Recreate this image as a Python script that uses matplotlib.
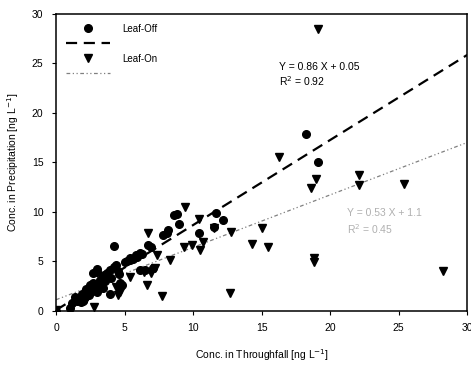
import matplotlib
matplotlib.use("Agg")
import matplotlib.pyplot as plt
from matplotlib.lines import Line2D
import numpy as np

plt.rcParams['font.family'] = ['Liberation Sans', 'DejaVu Sans']

# Leaf-Off samples (throughfall, precipitation), ng/L
off_x = [0.0, 1.0, 1.4, 1.9, 2.0, 2.1, 1.8, 2.3, 2.5, 2.7, 2.7, 3.0, 3.2, 3.4,
         3.0, 3.4, 3.7, 3.9, 3.9, 4.2, 4.4, 4.7, 4.2, 4.8, 5.0, 5.4, 5.4, 5.8,
         5.9, 6.1, 6.1, 6.5, 7.1, 6.7, 6.9, 7.8, 8.1, 8.2, 8.6, 8.8, 9.0, 10.4,
         11.7, 12.2, 11.5, 18.2, 19.1, 2.2, 1.5, 2.8, 3.6, 3.0, 4.6,
         1.2, 1.7, 2.4, 2.6, 3.3, 3.5, 4.0, 4.5, 5.2, 5.6, 6.3]
off_y = [0.0, 0.3, 1.4, 1.7, 1.0, 1.4, 0.9, 2.0, 2.6, 2.8, 3.8, 3.9, 3.1, 3.4,
         1.9, 2.3, 3.8, 4.1, 1.7, 4.4, 4.6, 2.8, 6.5, 2.6, 4.9, 5.3, 5.1, 5.6,
         5.4, 5.8, 4.1, 4.1, 4.3, 6.6, 6.4, 7.6, 7.8, 8.1, 9.7, 9.8, 8.8, 7.8,
         9.9, 9.2, 8.5, 17.9, 15.0, 2.2, 1.0, 2.4, 3.0, 4.2, 3.7,
         0.8, 1.2, 1.6, 2.0, 2.6, 3.6, 3.3, 4.0, 5.0, 5.2, 5.7]

# Leaf-On samples
on_x = [0.0, 2.8, 4.5, 4.7, 4.4, 5.4, 6.4, 6.6, 7.7, 7.2, 7.4, 8.3, 6.7, 9.4,
        10.4, 11.5, 9.3, 9.9, 10.7, 10.5, 12.8, 12.7, 14.3, 15.0, 15.5, 16.3,
        18.6, 19.0, 18.8, 18.8, 19.1, 22.1, 22.1, 25.4, 28.2, 2.2, 6.9]
on_y = [0.1, 0.4, 1.6, 1.9, 2.4, 3.4, 3.9, 2.6, 1.5, 4.3, 5.6, 5.1, 7.8, 10.5,
        9.3, 8.4, 6.4, 6.6, 6.9, 6.1, 7.9, 1.8, 6.7, 8.4, 6.4, 15.5,
        12.4, 13.3, 5.3, 4.9, 28.5, 13.7, 12.7, 12.8, 4.0, 1.2, 3.8]

# regression fits
off_slope, off_icpt, off_r2 = 0.86, 0.05, 0.92
on_slope, on_icpt, on_r2 = 0.53, 1.1, 0.45

fig = plt.figure(figsize=(4.71, 3.65), dpi=100)
ax = fig.add_axes([0.119, 0.149, 0.873, 0.813])

xx = np.array([0, 30])
ax.plot(xx, off_slope * xx + off_icpt, color='black', lw=1.6,
        dashes=(5, 3), zorder=2)
ax.plot(xx, on_slope * xx + on_icpt, color='#808080', lw=0.9,
        dashes=(3, 2, 1, 2, 1, 2), zorder=2)

ax.plot(off_x, off_y, 'o', color='black', ms=5.5, mec='black', zorder=3)
ax.plot(on_x, on_y, 'v', color='black', ms=5.5, mec='black', zorder=3)

ax.text(16.3, 24.6, f"Y = {off_slope:.2f} X + {off_icpt:.2f}",
        fontsize=7.5, va='center')
ax.text(16.3, 23.2, f"R$^2$ = {off_r2:.2f}", fontsize=7.5, va='center')
ax.text(21.2, 9.9, f"Y = {on_slope:.2f} X + {on_icpt:.1f}",
        fontsize=7.5, va='center', color='#b0b0b0')
ax.text(21.2, 8.2, f"R$^2$ = {on_r2:.2f}", fontsize=7.5, va='center',
        color='#b0b0b0')

handles = [
    Line2D([], [], marker='o', ls='none', color='black', ms=5.5),
    Line2D([], [], color='black', lw=1.6, dashes=(5, 3)),
    Line2D([], [], marker='v', ls='none', color='black', ms=5.5),
    Line2D([], [], color='#808080', lw=0.9, dashes=(3, 2, 1, 2, 1, 2)),
]
labels = ['Leaf-Off', '', 'Leaf-On', '']
ax.legend(handles, labels, loc='upper left', frameon=False, fontsize=7,
          handlelength=4.5, handletextpad=1.3, labelspacing=0.5,
          borderpad=0, borderaxespad=0,
          bbox_to_anchor=(10 / 411, 1 - 10 / 296))

ax.set_xlim(0, 30)
ax.set_ylim(0, 30)
ax.set_xticks(range(0, 31, 5))
ax.set_yticks(range(0, 31, 5))
ax.tick_params(direction='out', length=3, width=0.8, labelsize=7.5, pad=6)
for s in ax.spines.values():
    s.set_linewidth(1.1)

ax.set_xlabel("Conc. in Throughfall [ng L$^{-1}$]", fontsize=7.5, labelpad=10)
ax.set_ylabel("Conc. in Precipitation [ng L$^{-1}$]", fontsize=7.5, labelpad=8)

fig.savefig("out.png", dpi=100)
